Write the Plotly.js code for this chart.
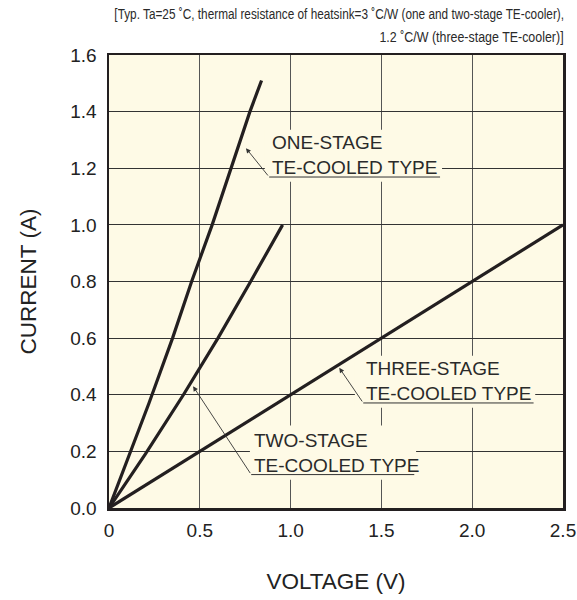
<!DOCTYPE html>
<html>
<head>
<meta charset="utf-8">
<script src="https://cdn.plot.ly/plotly-3.0.1.min.js"></script>
<style>html,body{margin:0;padding:0;background:#fff;}#chart{width:577px;height:600px;}</style>
</head>
<body>
<div id="chart"></div>
<script>
// Data
const voltageOne = [0, 0.22, 0.35, 0.455, 0.568, 0.776, 0.84];
const currentOne = [0, 0.37, 0.6, 0.8, 1.0, 1.4, 1.51];
const voltageTwo = [0, 0.2, 0.41, 0.6, 0.78, 0.956];
const currentTwo = [0, 0.19, 0.4, 0.6, 0.8, 1.0];
const voltageThree = [0, 2.5];
const currentThree = [0, 1.0];

const xTickVals = [0, 0.5, 1.0, 1.5, 2.0, 2.5];
const xTickText = ["0", "0.5", "1.0", "1.5", "2.0", "2.5"];
const yTickVals = [0, 0.2, 0.4, 0.6, 0.8, 1.0, 1.2, 1.4, 1.6];
const yTickText = ["0.0", "0.2", "0.4", "0.6", "0.8", "1.0", "1.2", "1.4", "1.6"];

const labelLines = [
  ["ONE-STAGE", "TE-COOLED TYPE"],
  ["TWO-STAGE", "TE-COOLED TYPE"],
  ["THREE-STAGE", "TE-COOLED TYPE"]
];
const noteLine1 = "[Typ. Ta=25 \u02DAC, thermal resistance of heatsink=3 \u02DAC/W (one and two-stage TE-cooler),";
const noteLine2 = "1.2 \u02DAC/W (three-stage TE-cooler)]";

const FONT = "Liberation Sans, Arial, sans-serif";
const INK = "#231f20";
const BG = "#fefae6";

const lineStyle = {color: INK, width: 3.2};
const traces = [
  {x: voltageOne, y: currentOne, mode: "lines", line: lineStyle, hoverinfo: "skip"},
  {x: voltageTwo, y: currentTwo, mode: "lines", line: lineStyle, hoverinfo: "skip"},
  {x: voltageThree, y: currentThree, mode: "lines", line: lineStyle, hoverinfo: "skip"}
];

// label geometry (box, underline, leader tip) in data units
const labels = [
  {box: [0.858, 1.834, 1.152, 1.336], ul: [0.882, 1.823, 1.169], tip: [0.754, 1.271]},
  {box: [0.776, 1.691, 0.100, 0.291], ul: [0.783, 1.681, 0.118], tip: [0.463, 0.430]},
  {box: [1.354, 2.347, 0.354, 0.538], ul: [1.400, 2.338, 0.371], tip: [1.268, 0.495]}
];

const shapes = [];
const annotations = [];
labels.forEach((L, i) => {
  shapes.push({type: "rect", xref: "x", yref: "y", x0: L.box[0], x1: L.box[1], y0: L.box[2], y1: L.box[3],
    fillcolor: BG, line: {width: 0}, layer: "between"});
  shapes.push({type: "line", xref: "x", yref: "y", x0: L.ul[0], x1: L.ul[1], y0: L.ul[2], y1: L.ul[2],
    line: {color: "#333", width: 1}, layer: "above"});
  annotations.push({xref: "x", yref: "y", x: L.tip[0], y: L.tip[1], axref: "x", ayref: "y",
    ax: L.ul[0], ay: L.ul[2], text: "", showarrow: true, arrowhead: 2, arrowsize: 1.1,
    arrowwidth: 0.9, arrowcolor: "#333", standoff: 0, startstandoff: 0});
  annotations.push({xref: "x", yref: "y", x: L.ul[0] + 0.002, y: L.ul[2] - 0.012, xanchor: "left", yanchor: "bottom",
    text: labelLines[i].join("<br>"), showarrow: false, align: "left",
    font: {family: FONT, size: 19, color: "#2a2a2a"}});
});

annotations.push({xref: "paper", yref: "paper", x: 1.006, y: 1.091, xanchor: "right", yanchor: "middle",
  text: noteLine1, showarrow: false, align: "right", font: {family: FONT, size: 14.5, color: "#2a2a2a"}});
annotations.push({xref: "paper", yref: "paper", x: 1.006, y: 1.040, xanchor: "right", yanchor: "middle",
  text: noteLine2, showarrow: false, align: "right", font: {family: FONT, size: 14.5, color: "#2a2a2a"}});

const layout = {
  width: 577, height: 600,
  margin: {l: 109, r: 14, t: 55, b: 92},
  paper_bgcolor: "#ffffff",
  plot_bgcolor: BG,
  showlegend: false,
  font: {family: FONT, color: "#222"},
  xaxis: {
    range: [0, 2.5], tickvals: xTickVals, ticktext: xTickText,
    showgrid: true, gridcolor: "#555", gridwidth: 1, zeroline: false,
    showline: true, linecolor: INK, linewidth: 2.5, mirror: true,
    ticks: "", ticklabelstandoff: 4,
    tickfont: {family: FONT, size: 19, color: "#222"},
    title: {text: "VOLTAGE (V)", font: {family: FONT, size: 22.5, color: "#222"}, standoff: 33},
    fixedrange: true
  },
  yaxis: {
    range: [0, 1.6], tickvals: yTickVals, ticktext: yTickText,
    showgrid: true, gridcolor: "#333", gridwidth: 1, zeroline: false,
    showline: true, linecolor: INK, linewidth: 2.5, mirror: true,
    ticks: "", ticklabelstandoff: 6,
    tickfont: {family: FONT, size: 19, color: "#222"},
    title: {text: "CURRENT (A)", font: {family: FONT, size: 22.5, color: "#222"}, standoff: 28},
    fixedrange: true
  },
  shapes: shapes,
  annotations: annotations
};

// condensed look of the note lines (reference uses a narrow face)
const noteWidths = {};
noteWidths[noteLine1] = 452;
noteWidths[noteLine2] = 187;
const noteRight = 565;

Plotly.newPlot("chart", traces, layout, {displayModeBar: false, staticPlot: true}).then(() => {
  document.querySelectorAll("#chart .annotation").forEach(g => {
    const t = g.querySelector(".annotation-text");
    if (!t) return;
    const w = noteWidths[t.textContent];
    if (!w) return;
    const r = g.getBoundingClientRect();
    const s = w / r.width;
    const xr = noteRight;
    g.setAttribute("transform", "matrix(" + s + ",0,0,1," + ((1 - s) * xr) + ",0)");
    const r2 = g.getBoundingClientRect();
    const dx = xr - r2.right;
    g.setAttribute("transform", "matrix(" + s + ",0,0,1," + ((1 - s) * xr + dx) + ",0)");
  });
});
</script>
</body>
</html>
